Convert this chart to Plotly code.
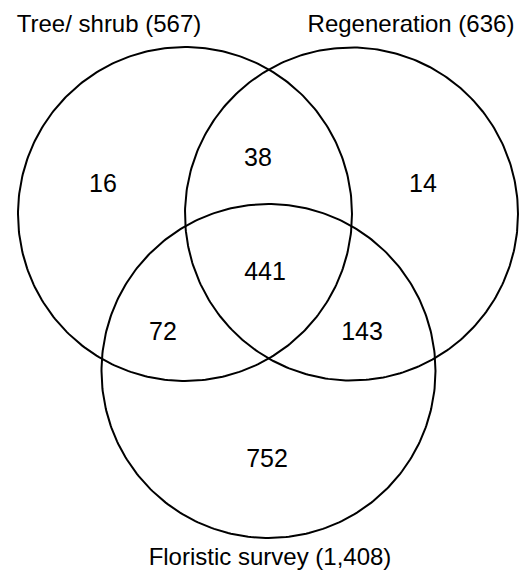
import numpy as np
import plotly.graph_objects as go

# ---- data ----
set_names = ["Tree/ shrub", "Regeneration", "Floristic survey"]
set_totals = ["567", "636", "1,408"]
region_labels = ["T only", "T&R", "R only", "T&R&F", "T&F", "R&F", "F only"]
region_counts = [16, 38, 14, 441, 72, 143, 752]

# ---- layout geometry (pixels) ----
W, H = 528, 572
circle_cx = [185, 351.5, 268.5]
circle_cy = [214, 214, 371]
circle_r = [167, 166.5, 167]
region_x = [103, 258, 423, 265, 163, 362, 267]
region_y = [186, 160, 186, 274, 334, 334, 461]
label_x = [109, 411, 270]
label_y = [26, 26, 559]

fig = go.Figure()

t = np.linspace(0, 2 * np.pi, 361)
for cx, cy, r in zip(circle_cx, circle_cy, circle_r):
    fig.add_trace(go.Scatter(
        x=cx + r * np.cos(t), y=cy + r * np.sin(t),
        mode="lines", line=dict(color="black", width=2),
        hoverinfo="skip", showlegend=False))

fig.add_trace(go.Scatter(
    x=region_x, y=region_y, mode="text",
    text=[str(v) for v in region_counts],
    textfont=dict(family="Liberation Sans, Arial", size=25, color="black"),
    hovertext=region_labels, showlegend=False, cliponaxis=False))

fig.add_trace(go.Scatter(
    x=label_x, y=label_y, mode="text",
    text=[f"{n} ({v})" for n, v in zip(set_names, set_totals)],
    textfont=dict(family="Liberation Sans, Arial", size=24, color="black"),
    showlegend=False, cliponaxis=False))

fig.update_layout(
    width=W, height=H,
    margin=dict(l=0, r=0, t=0, b=0),
    paper_bgcolor="white", plot_bgcolor="white",
    xaxis=dict(range=[0, W], visible=False, fixedrange=True),
    yaxis=dict(range=[H, 0], visible=False, fixedrange=True),
)

fig.write_html(
    "out.html",
    config={"displayModeBar": False},
    post_script="document.body.style.margin='0';document.body.style.overflow='hidden';",
)
